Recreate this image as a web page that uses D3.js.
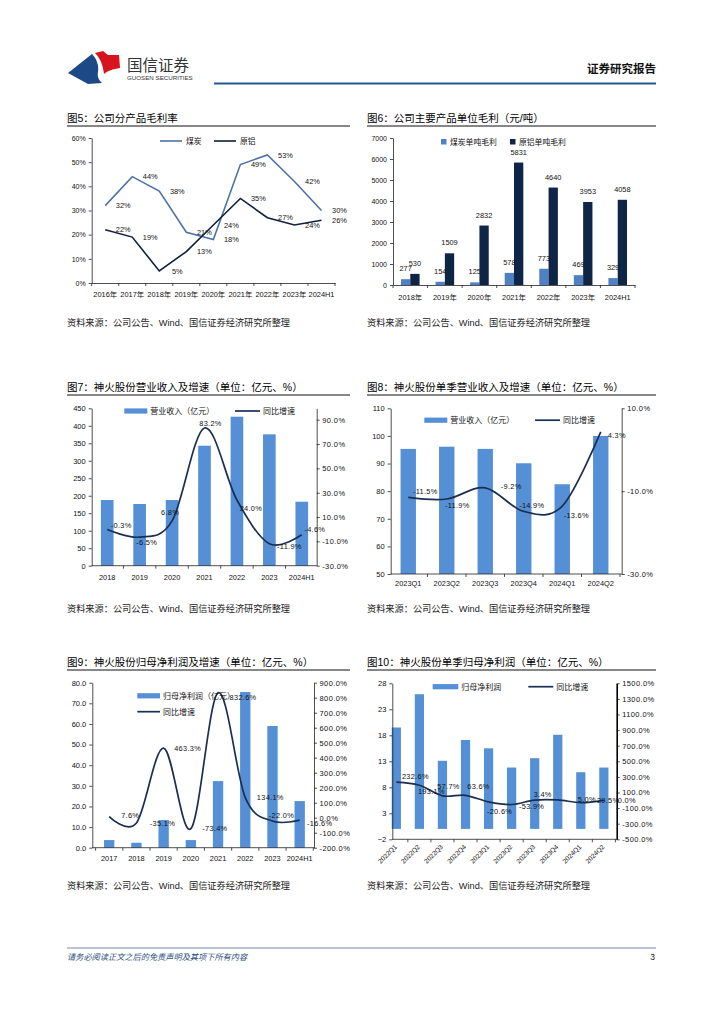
<!DOCTYPE html>
<html>
<head>
<meta charset="utf-8">
<script src="https://cdn.jsdelivr.net/npm/d3@7"></script>
<style>
  body { margin: 0; background: #fff; }
  svg { display: block; }
  text { font-family: "Liberation Sans", "Noto Sans CJK SC", sans-serif; fill: #111; }
</style>
</head>
<body>
<script>
'use strict'

////////////////////////////////////
//////////////// data //////////////
////////////////////////////////////

// 图5 分产品毛利率
const years5 = ['2016年', '2017年', '2018年', '2019年', '2020年', '2021年', '2022年', '2023年', '2024H1']
const coalMargin = [32, 44, 38, 21, 18, 49, 53, 42, 30]
const alumMargin = [22, 19, 5, 13, 24, 35, 27, 24, 26]

// 图6 单位毛利
const years6 = ['2018年', '2019年', '2020年', '2021年', '2022年', '2023年', '2024H1']
const coalUnit = [277, 154, 125, 578, 773, 469, 329]
const alumUnit = [530, 1509, 2832, 5831, 4640, 3953, 4058]

// 图7 营业收入
const years7 = ['2018', '2019', '2020', '2021', '2022', '2023', '2024H1']
const revenue7 = [187.8, 176.4, 187.8, 343, 426, 375.6, 183]
const revGrowth7 = [-0.3, -6.5, 6.8, 83.2, 24.0, -11.9, -4.6]

// 图8 单季营业收入
const quarters8 = ['2023Q1', '2023Q2', '2023Q3', '2023Q4', '2024Q1', '2024Q2']
const revenue8 = [95.3, 96.1, 95.3, 90.1, 82.5, 100]
const revGrowth8 = [-11.5, -11.9, -9.2, -14.9, -13.6, 4.3]

// 图9 归母净利润
const years9 = ['2017', '2018', '2019', '2020', '2021', '2022', '2023', '2024H1']
const profit9 = [3.7, 2.4, 13.4, 3.7, 32.3, 75.5, 59.0, 22.6]
const profGrowth9 = [7.6, -35.1, 463.3, -73.4, 832.6, 134.1, -22.0, -16.6]

// 图10 单季归母净利润
const quarters10 = ['2022Q1', '2022Q2', '2022Q3', '2022Q4', '2023Q1', '2023Q2', '2023Q3', '2023Q4', '2024Q1', '2024Q2']
const profit10 = [19.5, 25.9, 13.1, 17.1, 15.5, 11.8, 13.6, 18.1, 10.9, 11.8]
const profGrowth10 = [232.6, 193.1, 57.7, 63.6, -20.6, -53.9, 3.4, 5.0, -29.5, 0.0]

const sourceText = '资料来源：公司公告、Wind、国信证券经济研究所整理'

////////////////////////////////////
//////////// svg setup /////////////
////////////////////////////////////

const svg = d3.select('body').append('svg')
    .attr('width', 724)
    .attr('height', 1024)

const BAR = '#5590d6'
const NAVY = '#1a2f52'
const AXIS = '#222'

function styleAxis(sel, fs = 7.5) {
    sel.select('.domain').attr('stroke', AXIS).attr('stroke-width', 0.8)
    sel.selectAll('.tick line').attr('stroke', AXIS).attr('stroke-width', 0.8)
    sel.selectAll('.tick text').attr('font-size', fs).attr('fill', '#111')
        .attr('font-family', '"Liberation Sans","Noto Sans CJK SC",sans-serif')
}

////////////////////////////////////
/////////////// header /////////////
////////////////////////////////////

svg.append('path')
    .attr('d', 'M68,73 L92,54 C97,59 99,66 98,72 C97,77 99,80 102,83 L88,84 Z')
    .attr('fill', '#1d4a86')
svg.append('path')
    .attr('d', 'M95,53 L103,51 L108,55 L119,55 L120,68 C113,69 107,71 104,74 C103,66 101,59 95,53 Z')
    .attr('fill', '#d7141d')
svg.append('text').attr('x', 127).attr('y', 71).attr('font-size', 15.5)
    .style('fill', '#333').text('国信证券')
svg.append('text').attr('x', 127).attr('y', 80).attr('font-size', 6.2)
    .style('fill', '#333').text('GUOSEN SECURITIES')
svg.append('line').attr('x1', 214).attr('x2', 656).attr('y1', 83.5).attr('y2', 83.5)
    .attr('stroke', '#24578f').attr('stroke-width', 2)
svg.append('text').attr('x', 656).attr('y', 73).attr('text-anchor', 'end')
    .attr('font-size', 11.5).attr('font-weight', 'bold').text('证券研究报告')

// footer
svg.append('line').attr('x1', 67).attr('x2', 656).attr('y1', 948).attr('y2', 948)
    .attr('stroke', '#4f6f9c').attr('stroke-width', 0.8)
svg.append('text').attr('x', 67).attr('y', 960).attr('font-size', 8.2)
    .attr('font-style', 'italic').style('fill', '#2c4f82').text('请务必阅读正文之后的免责声明及其项下所有内容')
svg.append('text').attr('x', 655).attr('y', 960).attr('text-anchor', 'end')
    .attr('font-size', 8.5).text('3')

////////////////////////////////////
/////////////// frames /////////////
////////////////////////////////////

function frame(x0, x1, titleY, title, srcY) {
    svg.append('text').attr('x', x0).attr('y', titleY).attr('font-size', 10.5)
        .style('fill', '#000').text(title)
    svg.append('line').attr('x1', x0).attr('x2', x1).attr('y1', titleY + 4.5).attr('y2', titleY + 4.5)
        .attr('stroke', '#111').attr('stroke-width', 1.1)
    svg.append('text').attr('x', x0).attr('y', srcY).attr('font-size', 9.2)
        .style('fill', '#222').text(sourceText)
}

frame(67, 350, 121.5, '图5：公司分产品毛利率', 325.5)
frame(367, 656, 121.5, '图6：公司主要产品单位毛利（元/吨）', 325.5)
frame(67, 350, 390.5, '图7：神火股份营业收入及增速（单位：亿元、%）', 611.5)
frame(367, 656, 390.5, '图8：神火股份单季营业收入及增速（单位：亿元、%）', 611.5)
frame(67, 350, 665.5, '图9：神火股份归母净利润及增速（单位：亿元、%）', 888.5)
frame(367, 656, 665.5, '图10：神火股份单季归母净利润（单位：亿元、%）', 888.5)

////////////////////////////////////
/////////////// 图5 ////////////////
////////////////////////////////////

function chart5() {
    const g = svg.append('g')
    const x = d3.scaleBand().domain(years5).range([91.7, 335])
    const y = d3.scaleLinear().domain([0, 60]).range([283, 138])
    const cx = d => x(d) + x.bandwidth() / 2

    const ya = g.append('g').attr('transform', 'translate(91.7,0)')
        .call(d3.axisLeft(y).tickValues(d3.range(0, 61, 10)).tickSize(3).tickSizeOuter(0)
            .tickPadding(3).tickFormat(d => d + '%'))
    styleAxis(ya, 7)

    const xa = g.append('g').attr('transform', 'translate(0,283)')
        .call(d3.axisBottom(x).tickSize(0).tickSizeOuter(0).tickPadding(8.4))
    styleAxis(xa, 7.4)
    g.selectAll('.bt').data(d3.range(years5.length + 1)).join('line')
        .attr('x1', i => x.range()[0] + i * x.step()).attr('x2', i => x.range()[0] + i * x.step())
        .attr('y1', 283).attr('y2', 286).attr('stroke', AXIS).attr('stroke-width', 0.8)

    const series = [
        { name: '煤炭', vals: coalMargin, color: '#4d73a6' },
        { name: '原铝', vals: alumMargin, color: '#0f203f' }
    ]
    const line = d3.line().x((d, i) => cx(years5[i])).y(d => y(d))
    series.forEach((s, k) => {
        g.append('path').attr('d', line(s.vals)).attr('fill', 'none')
            .attr('stroke', s.color).attr('stroke-width', 1.6)
        g.selectAll('.lb' + k).data(s.vals).join('text')
            .attr('x', (d, i) => cx(years5[i]) + 18)
            .attr('y', d => y(d))
            .attr('dy', '0.35em')
            .attr('text-anchor', 'middle')
            .attr('font-size', 7.4)
            .text(d => d + '%')
        // legend
        const lx = 160 + k * 54
        g.append('line').attr('x1', lx).attr('x2', lx + 22).attr('y1', 141).attr('y2', 141)
            .attr('stroke', s.color).attr('stroke-width', 1.6)
        g.append('text').attr('x', lx + 26).attr('y', 141).attr('dy', '0.35em')
            .attr('font-size', 7.8).text(s.name)
    })
}

////////////////////////////////////
/////////////// 图6 ////////////////
////////////////////////////////////

function chart6() {
    const g = svg.append('g')
    const x = d3.scaleBand().domain(years6).range([393, 635])
    const inner = d3.scaleBand().domain([0, 1])
        .range([x.bandwidth() / 2 - 9.3, x.bandwidth() / 2 + 9.3])
    const y = d3.scaleLinear().domain([0, 7000]).range([285, 138])

    const ya = g.append('g').attr('transform', 'translate(393,0)')
        .call(d3.axisLeft(y).tickValues(d3.range(0, 7001, 1000)).tickSize(3).tickSizeOuter(0)
            .tickPadding(3).tickFormat(d3.format('d')))
    styleAxis(ya, 7)

    const series = [
        { name: '煤炭单吨毛利', vals: coalUnit, color: '#4f80c2' },
        { name: '原铝单吨毛利', vals: alumUnit, color: '#0f2546' }
    ]
    series.forEach((s, k) => {
        g.selectAll('.b' + k).data(s.vals).join('rect')
            .attr('x', (d, i) => x(years6[i]) + inner(k))
            .attr('width', inner.bandwidth())
            .attr('y', d => y(d))
            .attr('height', d => y(0) - y(d))
            .attr('fill', s.color)
    })
    series.forEach((s, k) => {
        g.selectAll('.l' + k).data(s.vals).join('text')
            .attr('x', (d, i) => x(years6[i]) + inner(k) + inner.bandwidth() / 2)
            .attr('y', d => y(d) - 8)
            .attr('text-anchor', 'middle')
            .attr('font-size', 7.4)
            .text(d => d)
        const lx = 441 + k * 69
        g.append('rect').attr('x', lx).attr('y', 139).attr('width', 5.5).attr('height', 5.5)
            .attr('fill', s.color)
        g.append('text').attr('x', lx + 9).attr('y', 142).attr('dy', '0.35em')
            .attr('font-size', 7.8).text(s.name)
    })

    const xa = g.append('g').attr('transform', 'translate(0,285)')
        .call(d3.axisBottom(x).tickSize(0).tickSizeOuter(0).tickPadding(9.4))
    styleAxis(xa, 7.4)
    g.selectAll('.bt').data(d3.range(years6.length + 1)).join('line')
        .attr('x1', i => x.range()[0] + i * x.step()).attr('x2', i => x.range()[0] + i * x.step())
        .attr('y1', 285).attr('y2', 288).attr('stroke', AXIS).attr('stroke-width', 0.8)
}

////////////////////////////////////
//////////// bar + line ////////////
////////////////////////////////////

function combo(o) {
    const g = svg.append('g')
    const x = d3.scaleBand().domain(o.cats).range(o.xr)
    const bw = x.step() * o.bw
    const cx = d => x(d) + x.step() / 2
    const yL = d3.scaleLinear().domain(o.ld).range(o.yr)
    const yR = d3.scaleLinear().domain(o.rd).range(o.yr)
    const base = o.yr[0]

    // bars
    g.selectAll('.bar').data(o.bars).join('rect')
        .attr('x', (d, i) => cx(o.cats[i]) - bw / 2)
        .attr('width', bw)
        .attr('y', d => yL(d))
        .attr('height', d => yL(Math.max(0, o.ld[0])) - yL(d))
        .attr('fill', BAR)

    // axes
    const la = g.append('g').attr('transform', `translate(${o.axL},0)`)
        .call(d3.axisLeft(yL).tickValues(o.lt).tickSize(3).tickSizeOuter(0).tickPadding(3).tickFormat(o.lf))
    styleAxis(la)
    if (o.redMin) la.selectAll('.tick text').filter(d => d < 0).attr('fill', '#e8161b')
    const ra = g.append('g').attr('transform', `translate(${o.axR},0)`)
        .call(d3.axisRight(yR).tickValues(o.rt).tickSize(3).tickSizeOuter(0).tickPadding(2.5)
            .tickFormat(d => d.toFixed(1) + '%'))
    styleAxis(ra)
    ra.selectAll('.tick text').attr('letter-spacing', 0.4)
    if (o.boldR) ra.select('.domain').attr('stroke-width', 1.6).attr('stroke', '#000')

    g.append('line').attr('x1', o.axL).attr('x2', o.axR).attr('y1', base).attr('y2', base)
        .attr('stroke', AXIS).attr('stroke-width', 0.8)
    const bounds = d3.range(o.cats.length + 1).map(i => x.range()[0] + i * x.step())
        .filter(v => v >= o.axL - 0.5 && v <= o.axR + 0.5)
    g.selectAll('.bt').data(bounds).join('line')
        .attr('x1', d => d).attr('x2', d => d)
        .attr('y1', base).attr('y2', base + 3)
        .attr('stroke', AXIS).attr('stroke-width', 0.8)

    if (o.rotate) {
        g.selectAll('.xl').data(o.cats).join('text')
            .attr('transform', d => `translate(${cx(d) + 1},${base + 8}) rotate(-45)`)
            .attr('text-anchor', 'end')
            .attr('font-size', 6.6)
            .text(d => d)
    } else {
        g.selectAll('.xl').data(o.cats).join('text')
            .attr('x', d => cx(d))
            .attr('y', base + o.xly)
            .attr('dy', '0.35em')
            .attr('text-anchor', 'middle')
            .attr('font-size', 7.4)
            .text(d => d)
    }

    // growth line
    const line = d3.line().curve(d3.curveCardinal.tension(0))
        .x((d, i) => cx(o.cats[i])).y(d => yR(d))
    g.append('path').attr('d', line(o.line)).attr('fill', 'none')
        .attr('stroke', NAVY).attr('stroke-width', 1.7)

    g.selectAll('.dl').data(o.line).join('text')
        .attr('x', (d, i) => cx(o.cats[i]) + o.off[i][0])
        .attr('y', (d, i) => yR(d) + o.off[i][1])
        .attr('dy', '0.35em')
        .attr('text-anchor', 'middle')
        .attr('font-size', 7.4)
        .attr('letter-spacing', 0.3)
        .text(d => d.toFixed(1) + '%')

    // legend
    const L = o.leg
    g.append('rect').attr('x', L.bx).attr('y', L.by - 2.6).attr('width', L.bw).attr('height', 5.2)
        .attr('fill', BAR)
    g.append('text').attr('x', L.bx + L.bw + 3).attr('y', L.by).attr('dy', '0.35em')
        .attr('font-size', 8).text(L.barName)
    g.append('line').attr('x1', L.lx).attr('x2', L.lx + L.lw).attr('y1', L.ly).attr('y2', L.ly)
        .attr('stroke', NAVY).attr('stroke-width', 1.7)
    g.append('text').attr('x', L.lx + L.lw + 3).attr('y', L.ly).attr('dy', '0.35em')
        .attr('font-size', 8).text('同比增速')
}

chart5()
chart6()

combo({
    cats: years7, bars: revenue7, line: revGrowth7,
    xr: [91, 318], bw: 0.39, axL: 91.7, axR: 316.7, yr: [565.7, 408.3],
    ld: [0, 450], lt: d3.range(0, 451, 50), lf: d3.format('d'),
    rd: [-30, 99.4], rt: [-30, -10, 10, 30, 50, 70, 90],
    xly: 11.3,
    off: [[14, -4.5], [7, 5.6], [-2, -9], [6, -4.6], [14, 8.4], [20, 3], [13, -5.8]],
    leg: { bx: 124.3, by: 411, bw: 23, barName: '营业收入（亿元）', lx: 235, ly: 411, lw: 25 }
})

combo({
    cats: quarters8, bars: revenue8, line: revGrowth8,
    xr: [389, 620], bw: 0.4, axL: 390.7, axR: 621.7, yr: [574, 408.3],
    ld: [50, 110], lt: d3.range(50, 111, 10), lf: d3.format('d'),
    rd: [-30, 10], rt: [-30, -10, 10],
    xly: 9.5,
    off: [[17, -5.5], [10.5, 6], [26, -1], [8, -6], [14, 9], [16, 3]],
    leg: { bx: 424.3, by: 420.2, bw: 23, barName: '营业收入（亿元）', lx: 535, ly: 420.2, lw: 25 }
})

combo({
    cats: years9, bars: profit9, line: profGrowth9,
    xr: [95.6, 313.3], bw: 0.38, axL: 92.3, axR: 314, yr: [847.7, 682.7],
    ld: [0, 80], lt: d3.range(0, 81, 10), lf: d => d.toFixed(1),
    rd: [-200, 900], rt: d3.range(-200, 901, 100),
    xly: 10.3,
    off: [[21, -1], [26, 0], [24, 0], [24, 0], [25, 5], [25, 0], [9, -6], [20, 3]],
    leg: { bx: 137.3, by: 695.8, bw: 22.7, barName: '归母净利润（亿元）', lx: 137.3, ly: 711.7, lw: 22.7 }
})

combo({
    cats: quarters10, bars: profit10, line: profGrowth10,
    xr: [384.8, 615.4], bw: 0.4, axL: 392.3, axR: 616.7, yr: [839.3, 683.3],
    ld: [-2, 28], lt: d3.range(-2, 29, 5), lf: d3.format('d'), redMin: true,
    rd: [-500, 1500], rt: d3.range(-500, 1501, 200), boldR: true,
    rotate: true,
    off: [[19, -5.5], [12, 6], [6, -9], [13, -9], [11, 10], [20, 2], [8, -6], [29, -1], [26, -2], [23, 0]],
    leg: { bx: 432.7, by: 686.7, bw: 25.6, barName: '归母净利润', lx: 528.3, ly: 686.7, lw: 25 }
})
</script>
</body>
</html>
